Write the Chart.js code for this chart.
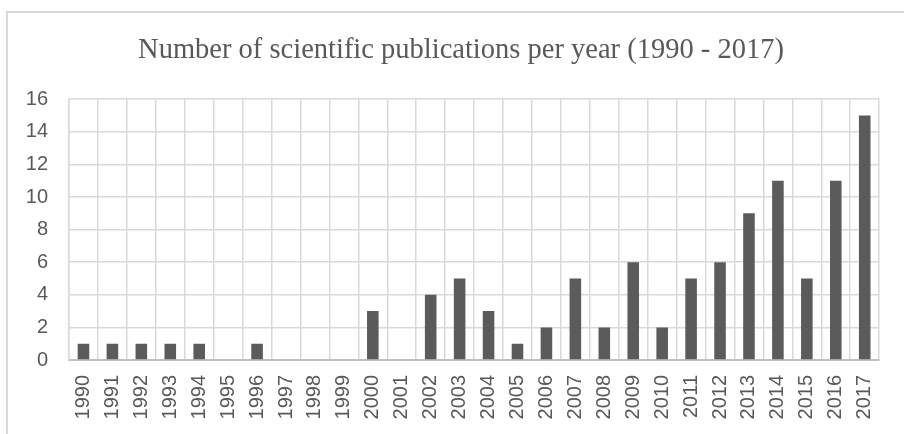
<!DOCTYPE html>
<html>
<head>
<meta charset="utf-8">
<script src="https://cdn.jsdelivr.net/npm/chart.js@4"></script>
<style>
  html, body { margin: 0; padding: 0; background: #fff; }
  #wrap { position: relative; width: 904px; height: 434px; }
</style>
</head>
<body>
<div id="wrap"><canvas id="pubs_chart" width="904" height="434"></canvas></div>
<script>
const years = ['1990','1991','1992','1993','1994','1995','1996','1997','1998','1999',
    '2000','2001','2002','2003','2004','2005','2006','2007','2008','2009',
    '2010','2011','2012','2013','2014','2015','2016','2017']
const publications = [1,1,1,1,1,0,1,0,0,0, 3,0,4,5,3,1,2,5,2,6, 2,5,6,9,11,5,11,15]

const gridGrey = '#d9d9d9'
const textGrey = '#595959'

// outer chart frame (Excel style, cut off at right/bottom)
const framePlugin = {
    id: 'frame',
    afterLayout(chart) {
        // centre the title on the frame rather than the canvas
        if (chart.titleBlock) chart.titleBlock.left = 34
    },
    beforeDraw(chart) {
        const c = chart.ctx
        c.save()
        c.strokeStyle = gridGrey
        c.lineWidth = 2
        c.beginPath()
        c.moveTo(7, chart.height)
        c.lineTo(7, 12)
        c.lineTo(chart.width, 12)
        c.stroke()
        c.restore()
    }
}

const ctx = document.getElementById('pubs_chart')

let config = {
    type: 'bar',
    data: {
        labels: years,
        datasets: [{
            label: 'Publications',
            data: publications,
            backgroundColor: '#5b5b5b',
            barPercentage: 0.4,
            categoryPercentage: 1.0
        }]
    },
    options: {
        responsive: false,
        animation: false,
        layout: {
            padding: { left: 10, right: 16, top: 0, bottom: 0 }
        },
        plugins: {
            legend: { display: false },
            tooltip: { enabled: false },
            title: {
                display: true,
                text: 'Number of scientific publications per year (1990 - 2017)',
                color: textGrey,
                font: { family: '"Liberation Serif", "DejaVu Serif", serif', size: 28.5, weight: 'normal', lineHeight: 1.2 },
                padding: { top: 33, bottom: 32 }
            }
        },
        scales: {
            x: {
                grid: {
                    color: gridGrey,
                    lineWidth: 1.5,
                    offset: true,
                    drawTicks: false
                },
                border: { color: '#bfbfbf', width: 2 },
                ticks: {
                    color: textGrey,
                    font: { family: '"Liberation Sans", Arial, sans-serif', size: 20 },
                    minRotation: 90,
                    maxRotation: 90,
                    padding: 15,
                    autoSkip: false
                },
                afterFit: (scale) => { scale.height = 74 }
            },
            y: {
                min: 0,
                max: 16,
                grid: {
                    color: gridGrey,
                    lineWidth: 1.5,
                    drawTicks: false
                },
                border: { color: gridGrey, width: 1.5 },
                ticks: {
                    stepSize: 2,
                    color: textGrey,
                    font: { family: '"Liberation Sans", Arial, sans-serif', size: 20 },
                    padding: 21
                },
                afterFit: (scale) => { scale.width = 59 }
            }
        }
    },
    plugins: [framePlugin]
}

const chart = new Chart(ctx, config)
</script>
</body>
</html>
